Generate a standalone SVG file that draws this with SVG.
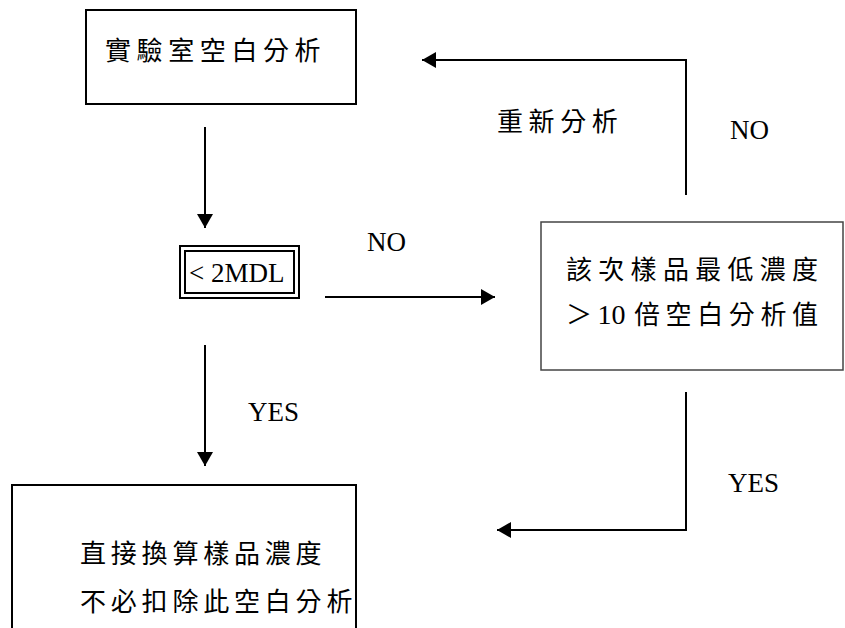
<svg xmlns="http://www.w3.org/2000/svg" width="845" height="628" viewBox="0 0 845 628">
<defs>
<style>
.box{fill:#fff;stroke:#000;stroke-width:2}
.cjk{font-family:"Noto Sans CJK TC","Noto Sans CJK SC",sans-serif;font-size:26px;letter-spacing:5.6px;fill:#000}
.lat{font-family:"Liberation Serif",serif;font-size:27px;fill:#000}
.ln{fill:none;stroke:#000;stroke-width:2}
</style>
<marker id="ah" viewBox="0 0 14 16" refX="14" refY="8" markerWidth="14" markerHeight="16" markerUnits="userSpaceOnUse" orient="auto">
<path d="M0,0 L14,8 L0,16 Z" fill="#000"/>
</marker>
</defs>
<rect width="845" height="628" fill="#fff"/>
<g id="n1">
<rect class="box" x="86" y="10" width="270" height="94"/>
<text class="cjk" x="105" y="60">實驗室空白分析</text>
</g>
<g id="n2">
<rect class="box" x="180" y="246" width="119" height="52"/>
<rect class="box" x="185" y="251" width="109" height="42"/>
<text class="lat" x="189" y="282">&lt; 2MDL</text>
</g>
<g id="n3">
<rect class="box" x="541" y="222" width="302" height="148" style="stroke:#444;stroke-width:1.5"/>
<text class="cjk" x="566" y="279" style="letter-spacing:6.3px">該次樣品最低濃度</text>
<text class="cjk" x="566" y="324">＞<tspan style="font-family:'Liberation Serif',serif;font-size:28px;letter-spacing:0">10</tspan><tspan x="634">倍空白分析值</tspan></text>
</g>
<g id="n4">
<rect class="box" x="12" y="485" width="344" height="160"/>
<text class="cjk" x="80" y="563" style="letter-spacing:4.8px">直接換算樣品濃度</text>
<text class="cjk" x="80" y="611" style="letter-spacing:4.8px">不必扣除此空白分析</text>
</g>
<g id="connectors">
<path class="ln" d="M205,127 V228" marker-end="url(#ah)"/>
<path class="ln" d="M325,297 H495" marker-end="url(#ah)"/>
<path class="ln" d="M686,195 V60 H422" marker-end="url(#ah)"/>
<path class="ln" d="M205,345 V466" marker-end="url(#ah)"/>
<path class="ln" d="M686,392 V530 H497" marker-end="url(#ah)"/>
<text class="lat" x="367" y="251">NO</text>
<text class="cjk" x="497" y="131">重新分析</text>
<text class="lat" x="730" y="139">NO</text>
<text class="lat" x="248" y="421">YES</text>
<text class="lat" x="728" y="492">YES</text>
</g>
</svg>
